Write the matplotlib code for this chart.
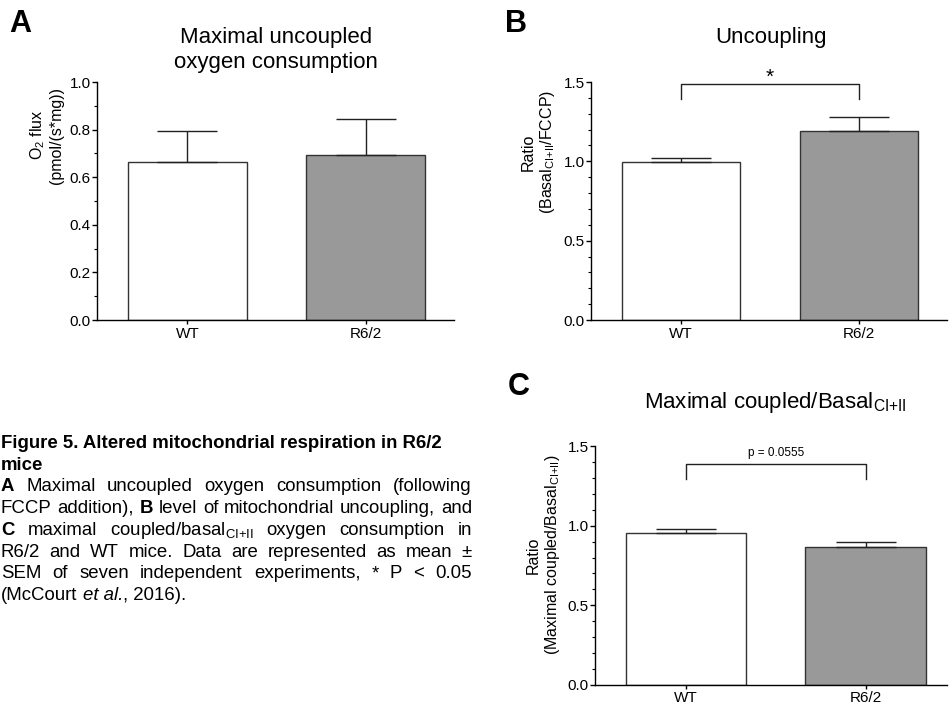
import numpy as np
import matplotlib
matplotlib.use("Agg")
import matplotlib.pyplot as plt
from matplotlib.ticker import MultipleLocator, FormatStrFormatter

plt.rcParams['font.family'] = ['Liberation Sans', 'DejaVu Sans']
plt.rcParams['mathtext.fontset'] = 'custom'
plt.rcParams['mathtext.rm'] = 'Liberation Sans'
plt.rcParams['mathtext.it'] = 'Liberation Sans:italic'
plt.rcParams['mathtext.bf'] = 'Liberation Sans:bold'

# --------------------
# Data (mean and SEM)
# --------------------
groups = ["WT", "R6/2"]
bar_colors = ["white", "#999999"]

flux_mean = [0.665, 0.695]      # panel A, pmol/(s*mg)
flux_sem = [0.131, 0.149]

uncoup_mean = [0.995, 1.192]    # panel B, Basal/FCCP
uncoup_sem = [0.028, 0.085]

coupled_mean = [0.957, 0.863]   # panel C, Maximal coupled/Basal
coupled_sem = [0.025, 0.035]

SUB = "$_{\\mathrm{CI{+}II}}$"

# --------------------
# Figure
# --------------------
W, H = 950, 705
fig = plt.figure(figsize=(W / 100, H / 100), dpi=100)


def rect(left, right, top, bottom):
    return [left / W, 1 - bottom / H, (right - left) / W, (bottom - top) / H]


def bar_panel(ax, means, sems, ymax, major, xlim, width, xpad=2):
    x = np.arange(len(groups))
    ax.bar(x, means, width=width, color=bar_colors, edgecolor="#333333",
           linewidth=1.0, zorder=2)
    ax.errorbar(x, means, yerr=[np.zeros(len(sems)), sems], fmt="none",
                ecolor="#222222", elinewidth=1.0, capsize=21.6, capthick=1.0,
                zorder=3)
    ax.set_xlim(*xlim)
    ax.set_ylim(0, ymax)
    ax.set_xticks(x)
    ax.set_xticklabels(groups, fontsize=11)
    ax.yaxis.set_major_locator(MultipleLocator(major))
    ax.yaxis.set_minor_locator(MultipleLocator(0.1))
    ax.yaxis.set_major_formatter(FormatStrFormatter("%.1f"))
    ax.tick_params(axis="y", which="major", length=3.5, width=1, pad=1, labelsize=11)
    ax.tick_params(axis="y", which="minor", length=2.2, width=0.8)
    ax.tick_params(axis="x", length=3, width=1, pad=xpad)
    for s in ["top", "right"]:
        ax.spines[s].set_visible(False)
    for s in ["left", "bottom"]:
        ax.spines[s].set_linewidth(1.0)


# Panel A
axA = fig.add_axes(rect(97, 454, 82, 320))
bar_panel(axA, flux_mean, flux_sem, 1.0, 0.2, (-0.508, 1.497), 0.668)
axA.text(-0.1415, 0.777, "O$_2$ flux\n(pmol/(s*mg))", transform=axA.transAxes,
         rotation=90, ha="center", va="center", fontsize=11.5, linespacing=1.15)

# Panel B
axB = fig.add_axes(rect(591, 947, 82, 320))
bar_panel(axB, uncoup_mean, uncoup_sem, 1.5, 0.5, (-0.506, 1.494), 0.663)
axB.text(-0.146, 0.706, "Ratio\n(Basal" + SUB + "/FCCP)", transform=axB.transAxes,
         rotation=90, ha="center", va="center", fontsize=11.5, linespacing=1.15)
axB.plot([0, 0, 1, 1], [1.39, 1.487, 1.487, 1.39], color="#222222", lw=1.0,
         clip_on=False)
axB.text(0.5, 1.53, "*", ha="center", va="center", fontsize=15, clip_on=False)

# Panel C
axC = fig.add_axes(rect(595, 947, 446, 685))
bar_panel(axC, coupled_mean, coupled_sem, 1.5, 0.5, (-0.507, 1.454), 0.67, xpad=1)
axC.text(-0.146, 0.544, "Ratio\n(Maximal coupled/Basal" + SUB + ")",
         transform=axC.transAxes, rotation=90, ha="center", va="center",
         fontsize=11.5, linespacing=1.15)
axC.plot([0, 0, 1, 1], [1.29, 1.385, 1.385, 1.29], color="#222222", lw=1.0,
         clip_on=False)
axC.text(0.5, 1.458, "p = 0.0555", ha="center", va="center", fontsize=8.5,
         clip_on=False)


def ftext(x, y, s, **kw):
    return fig.text(x / W, 1 - y / H, s, **kw)


# Titles and panel letters
ftext(276, 43, "Maximal uncoupled", ha="center", va="baseline", fontsize=16)
ftext(276, 68, "oxygen consumption", ha="center", va="baseline", fontsize=16)
ftext(771, 43, "Uncoupling", ha="center", va="baseline", fontsize=16)
ftext(775, 408, "Maximal coupled/Basal" + SUB, ha="center",
      va="baseline", fontsize=16)
ftext(9, 32, "A", fontsize=22, fontweight="bold", va="baseline")
ftext(505, 32, "B", fontsize=22, fontweight="bold", va="baseline")
ftext(508, 395, "C", fontsize=22, fontweight="bold", va="baseline")

# --------------------
# Caption (justified block)
# --------------------
cap_fs = 13.4
cap_left, cap_right = 1, 472
renderer = fig.canvas.get_renderer()
N, B, I = "normal", "bold", "italic"

heading = ["Figure 5. Altered mitochondrial respiration in R6/2", "mice"]
body = [
    [("A", B), ("Maximal", N), ("uncoupled", N), ("oxygen", N),
     ("consumption", N), ("(following", N)],
    [("FCCP", N), ("addition),", N), ("B", B), ("level", N), ("of", N),
     ("mitochondrial", N), ("uncoupling,", N), ("and", N)],
    [("C", B), ("maximal", N), ("coupled/basal" + SUB, N),
     ("oxygen", N), ("consumption", N), ("in", N)],
    [("R6/2", N), ("and", N), ("WT", N), ("mice.", N), ("Data", N), ("are", N),
     ("represented", N), ("as", N), ("mean", N), ("±", N)],
    [("SEM", N), ("of", N), ("seven", N), ("independent", N),
     ("experiments,", N), ("*", N), ("P", N), ("<", N), ("0.05", N)],
]
last_line = [("(McCourt ", N), ("et al.", I), (", 2016).", N)]

y = 448
step = 21.7
for line in heading:
    ftext(cap_left, y, line, fontsize=cap_fs, fontweight="bold", va="baseline")
    y += step


def place_tokens(tokens, y, justify):
    texts = []
    for s, style in tokens:
        kw = {"fontweight": "bold"} if style == B else {}
        if style == I:
            kw = {"fontstyle": "italic"}
        texts.append(ftext(0, y, s, fontsize=cap_fs, va="baseline", **kw))
    widths = [t.get_window_extent(renderer).width for t in texts]
    gap = (cap_right - cap_left - sum(widths)) / (len(texts) - 1) if justify else 0
    x = cap_left
    for t, w in zip(texts, widths):
        t.set_x(x / W)
        x += w + gap


for line in body:
    place_tokens(line, y, True)
    y += step

# last line: left aligned, pieces glued together
space_w = 0.278 * cap_fs * 100 / 72
x = cap_left
for s, style in last_line:
    kw = {"fontstyle": "italic"} if style == I else {}
    t = ftext(x, y, s.strip(), fontsize=cap_fs, va="baseline", **kw)
    x += t.get_window_extent(renderer).width + (space_w if s.endswith(" ") else 0)

fig.savefig("out.png", dpi=100)
